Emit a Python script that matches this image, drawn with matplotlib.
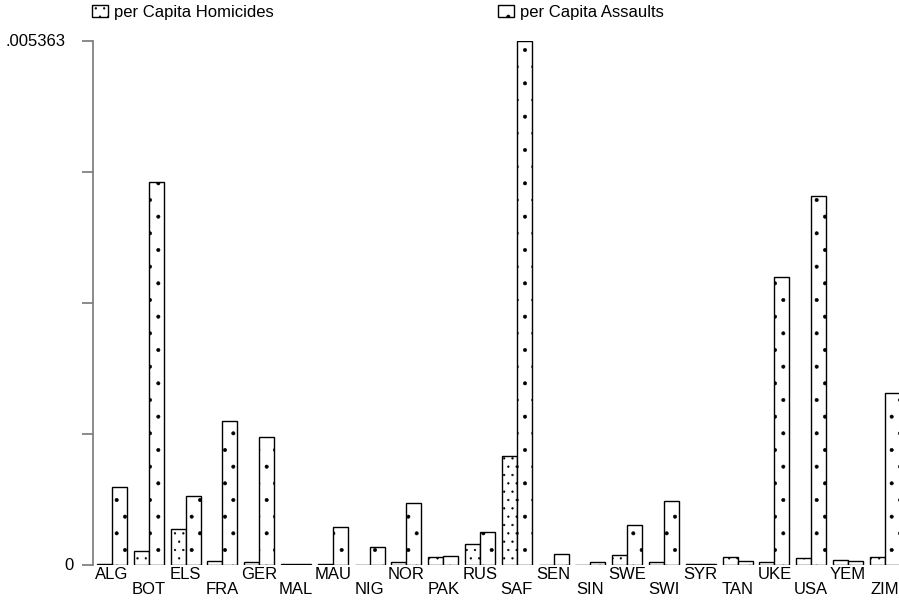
import matplotlib
matplotlib.use('Agg')
import matplotlib.pyplot as plt
from matplotlib.patches import Patch
import numpy as np

plt.rcParams['font.family'] = ['Liberation Sans', 'DejaVu Sans']
plt.rcParams['hatch.linewidth'] = 0.4

countries = ['ALG', 'BOT', 'ELS', 'FRA', 'GER', 'MAL', 'MAU', 'NIG', 'NOR', 'PAK', 'RUS',
             'SAF', 'SEN', 'SIN', 'SWE', 'SWI', 'SYR', 'TAN', 'UKE', 'USA', 'YEM', 'ZIM']
homicides = [0.000010, 0.000143, 0.000368, 0.000038, 0.000031, 0.000008, 0.000015, 0.000005,
             0.000028, 0.000082, 0.000215, 0.001116, 0.000005, 0.000005, 0.000102, 0.000028,
             0.000015, 0.000077, 0.000028, 0.000069, 0.000048, 0.000082]
assaults = [0.000798, 0.003920, 0.000706, 0.001474, 0.001310, 0.000010, 0.000389, 0.000184,
            0.000635, 0.000097, 0.000338, 0.005363, 0.000113, 0.000026, 0.000409, 0.000655,
            0.000015, 0.000041, 0.002948, 0.003777, 0.000038, 0.001760]
ymax = 0.005363

fig = plt.figure(figsize=(8.99, 6.0), dpi=100)
W, H = 899, 600
ax = fig.add_axes([93.3 / W, 35 / H, (W - 93.3) / W, 524 / H])

x = np.arange(len(countries))
w = 15 / 36.8
ax.bar(x - w / 2, homicides, width=w, facecolor='white', edgecolor='black',
       linewidth=1.0, hatch='..')
ax.bar(x + w / 2, assaults, width=w, facecolor='white', edgecolor='black',
       linewidth=1.0, hatch='.')

ax.set_xlim(-0.508, 21.386)
ax.set_ylim(0, ymax)

for s in ['top', 'right', 'bottom']:
    ax.spines[s].set_visible(False)
ax.spines['left'].set_color('#777777')
ax.spines['left'].set_linewidth(1.2)

ax.set_xticks([])
ax.set_yticks(np.linspace(0, ymax, 5))
ax.set_yticklabels([])
ax.tick_params(axis='y', length=8, width=1.2, color='#777777')

# y labels only at the ends
yt = ax.get_yaxis_transform()
ax.text(-0.034, ymax, '.005363', transform=yt, ha='right', va='center', fontsize=12)
ax.text(-0.025, 0, '0', transform=yt, ha='right', va='center', fontsize=12)

# staggered country labels
xt = ax.get_xaxis_transform()
for i, c in enumerate(countries):
    yy = -0.0267 if i % 2 == 0 else -0.0559
    ax.text(i, yy, c, transform=xt, ha='center', va='baseline', fontsize=12, clip_on=False)

h1 = Patch(facecolor='white', edgecolor='black', hatch='..', linewidth=1.0)
h2 = Patch(facecolor='white', edgecolor='black', hatch='.', linewidth=1.0)
leg_kw = dict(frameon=False, fontsize=12, borderpad=0, borderaxespad=0,
              handlelength=0.95, handleheight=0.7, handletextpad=0.35)
fig.legend([h1], ['per Capita Homicides'], loc='upper left',
           bbox_to_anchor=(92 / W, 1 - 5 / H), **leg_kw)
fig.legend([h2], ['per Capita Assaults'], loc='upper left',
           bbox_to_anchor=(498 / W, 1 - 5 / H), **leg_kw)

fig.savefig('out.png', dpi=100)
